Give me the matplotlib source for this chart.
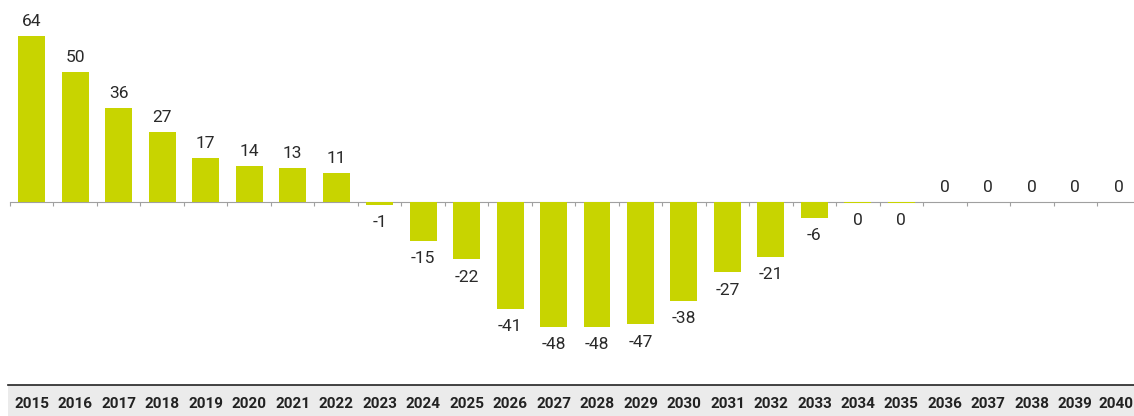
import numpy as np
import matplotlib
matplotlib.use("Agg")
import matplotlib.pyplot as plt

years = list(range(2015, 2041))
values = [64, 50, 36, 27, 17, 14, 13, 11, -1, -15, -22, -41, -48, -48, -47,
          -38, -27, -21, -6, -0.4, -0.4, 0, 0, 0, 0, 0]

BAR = "#c8d400"
W, H = 1134, 416

plt.rcParams["font.family"] = ["Roboto", "DejaVu Sans"]

fig = plt.figure(figsize=(W / 100, H / 100), dpi=100)
left = 10 / W
band_h = 31 / H
ax = fig.add_axes([left, band_h, 1 - left, 1 - band_h])
x = np.arange(len(years))
ax.bar(x, values, width=0.62, color=BAR, zorder=4)
ax.set_xlim(-0.5, len(years) - 0.65)
ax.set_ylim(-70.4, 77.7)

for xi, v in zip(x, values):
    lab = f"{int(round(v))}"
    if v >= 0:
        ax.annotate(lab, (xi, v), xytext=(0, 5), textcoords="offset points",
                    ha="center", va="bottom", fontsize=12.5, color="#2a2a2a")
    else:
        ax.annotate(lab, (xi, v), xytext=(0, -7.5), textcoords="offset points",
                    ha="center", va="top", fontsize=12.5, color="#2a2a2a")

for s in ("top", "right", "left"):
    ax.spines[s].set_visible(False)
ax.spines["bottom"].set_position(("data", 0))
ax.spines["bottom"].set_color("#a0a0a0")
ax.spines["bottom"].set_zorder(3)
ax.set_yticks([])
ax.set_xticks(x - 0.5)
ax.set_xticklabels([])
ax.tick_params(axis="x", direction="out", length=3, color="#a0a0a0")
ax.patch.set_alpha(0)

# year row at the bottom
band = fig.add_axes([8 / W, 0, 1 - 8 / W, band_h])
band.set_facecolor("#ebebeb")
band.set_xlim(-0.5 - 2 / 43.5, len(years) - 0.65)
band.set_ylim(0, 1)
for s in ("right", "left", "bottom"):
    band.spines[s].set_visible(False)
band.spines["top"].set_color("#222222")
band.spines["top"].set_linewidth(1.2)
band.set_xticks([])
band.set_yticks([])
for i, (xi, yr) in enumerate(zip(x, years)):
    last = i == len(years) - 1
    band.text(len(years) - 0.67 if last else xi, 0.4, str(yr),
              ha="right" if last else "center", va="center", fontsize=11,
              fontweight="bold", color="#222222")

fig.savefig("out.png", dpi=100)
